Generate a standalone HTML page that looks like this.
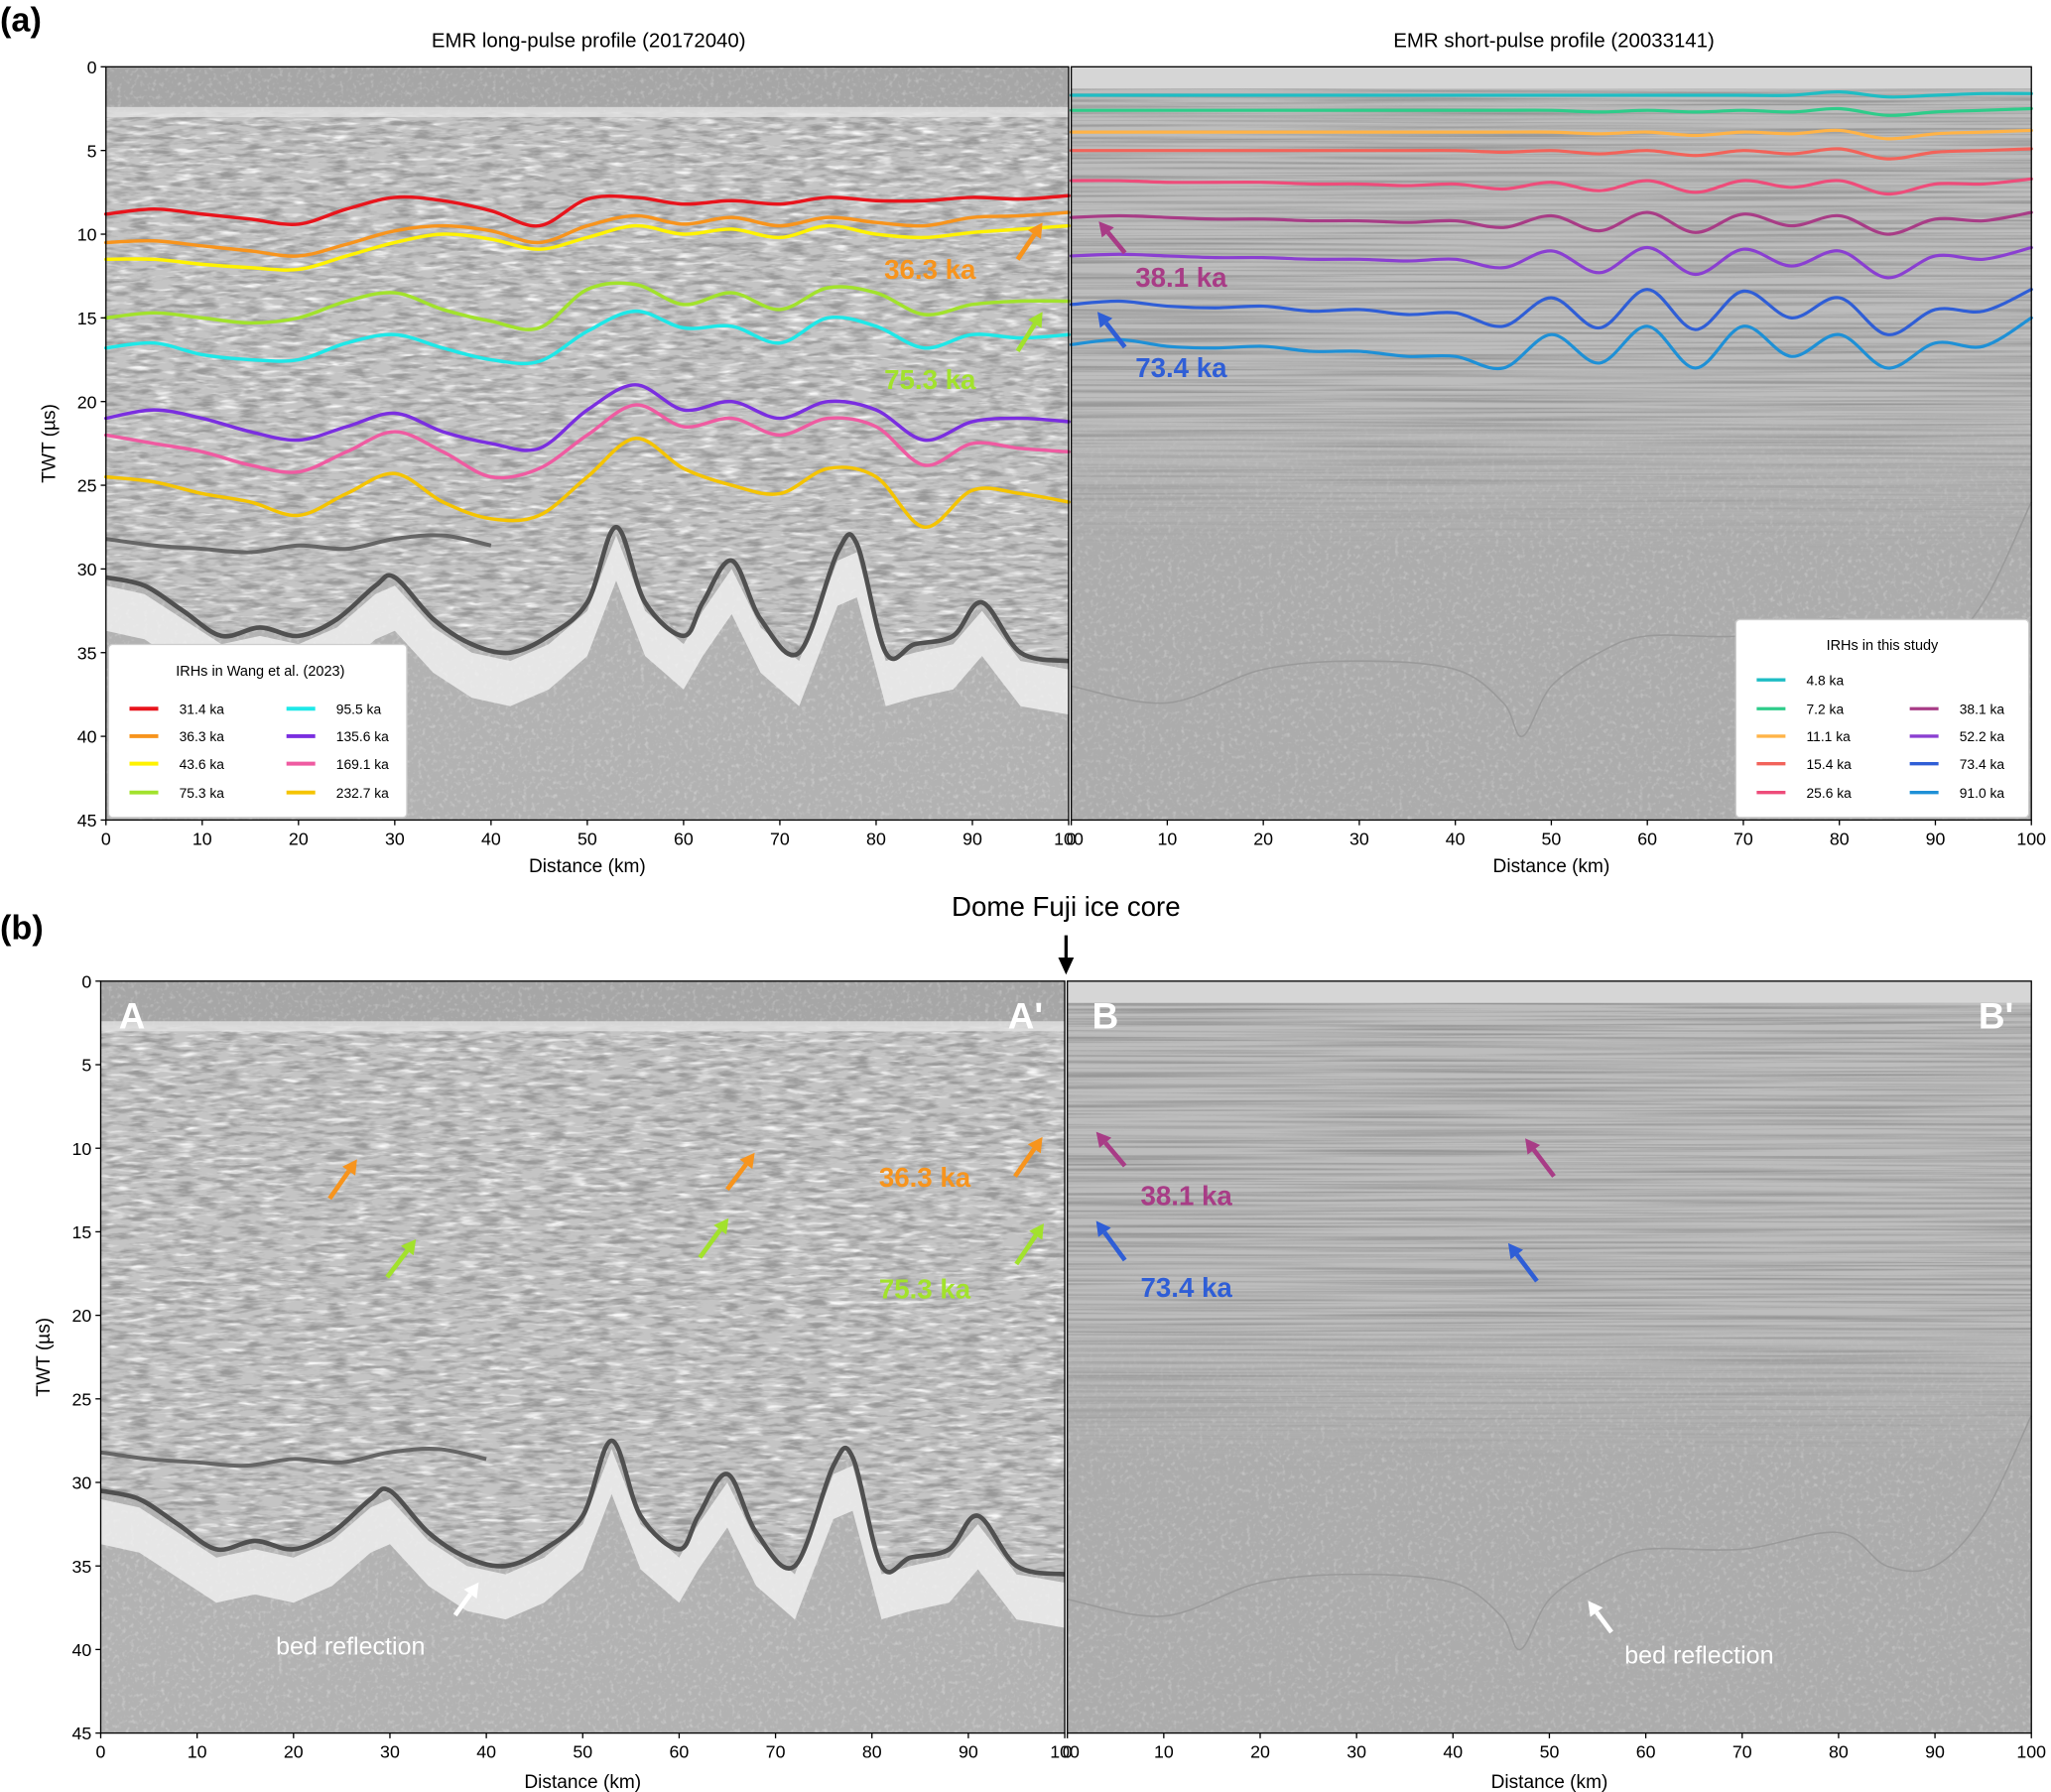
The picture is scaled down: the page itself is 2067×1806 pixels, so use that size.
<!DOCTYPE html>
<html><head><meta charset="utf-8"><title>EMR radar profiles</title>
<style>
html,body{margin:0;padding:0;background:#fff;}
svg{display:block;font-family:"Liberation Sans",Arial,sans-serif;}
</style></head>
<body>
<svg id="fig" width="2067" height="1806" viewBox="0 0 1568 1368" preserveAspectRatio="none" xmlns="http://www.w3.org/2000/svg">
<defs>
<filter id="nzDark" x="0" y="0" width="100%" height="100%"><feTurbulence type="fractalNoise" baseFrequency="0.06 0.28" numOctaves="3" seed="4"/><feColorMatrix type="matrix" values="0 0 0 0 0.3  0 0 0 0 0.3  0 0 0 0 0.3  3.0 0 0 0 -1.3"/></filter>
<filter id="nzLight" x="0" y="0" width="100%" height="100%"><feTurbulence type="fractalNoise" baseFrequency="0.3 0.3" numOctaves="2" seed="9"/><feColorMatrix type="matrix" values="0 0 0 0 1  0 0 0 0 1  0 0 0 0 1  -2.4 0 0 0 1.15"/></filter>
<filter id="nzWhite" x="0" y="0" width="100%" height="100%"><feTurbulence type="fractalNoise" baseFrequency="0.06 0.3" numOctaves="2" seed="11"/><feColorMatrix type="matrix" values="0 0 0 0 1  0 0 0 0 1  0 0 0 0 1  -3.0 0 0 0 1.45"/></filter>
<filter id="stripes" x="0" y="0" width="100%" height="100%"><feTurbulence type="fractalNoise" baseFrequency="0.004 0.5" numOctaves="2" seed="7"/><feColorMatrix type="matrix" values="0 0 0 0 0.25  0 0 0 0 0.25  0 0 0 0 0.25  2.6 0 0 0 -1.05"/></filter>
<linearGradient id="fadeG" x1="0" y1="0" x2="0" y2="1"><stop offset="0" stop-color="#fff"/><stop offset="0.45" stop-color="#fff"/><stop offset="0.65" stop-color="#000"/><stop offset="1" stop-color="#000"/></linearGradient>
</defs>
<g id="root"></g>
</svg>
<script>
// ---------------- data ----------------
const dist5 = [0,5,10,15,20,25,30,35,40,45,50,55,60,65,70,75,80,85,90,95,100];
const longLabels = ["31.4 ka","36.3 ka","43.6 ka","75.3 ka","95.5 ka","135.6 ka","169.1 ka","232.7 ka"];
const longColors = ["#e8141c","#f7941d","#fff200","#a2e22c","#1ee8e8","#7a2ee0","#ef5ba1","#f5c400"];
const irh314 = [8.8,8.5,8.8,9.1,9.4,8.5,7.8,8.0,8.6,9.5,7.9,7.8,8.2,8.0,8.2,7.8,8.0,8.0,7.8,7.9,7.7];
const irh363 = [10.5,10.4,10.7,11.0,11.3,10.6,9.8,9.5,9.8,10.5,9.5,8.9,9.4,9.0,9.5,9.0,9.3,9.5,9.0,8.9,8.7];
const irh436 = [11.5,11.5,11.8,12.0,12.1,11.3,10.5,10.0,10.3,10.9,10.2,9.5,10.0,9.7,10.2,9.5,10.0,10.2,9.9,9.7,9.5];
const irh753 = [15.0,14.7,15.0,15.3,15.0,14.0,13.5,14.5,15.2,15.6,13.3,13.0,14.2,13.5,14.5,13.2,13.5,14.8,14.2,14.0,14.0];
const irh955 = [16.8,16.5,17.2,17.5,17.5,16.5,16.0,16.8,17.5,17.6,15.8,14.6,15.6,15.5,16.5,15.0,15.5,16.8,16.0,16.2,16.0];
const irh1356 = [21.0,20.5,21.0,21.8,22.3,21.5,20.7,21.8,22.5,22.8,20.5,19.0,20.5,20.0,21.0,20.0,20.5,22.3,21.2,21.0,21.2];
const irh1691 = [22.0,22.5,23.0,23.8,24.2,23.0,21.8,23.0,24.5,24.0,22.0,20.2,21.5,21.0,22.0,21.0,21.5,23.8,22.5,22.8,23.0];
const irh2327 = [24.5,24.8,25.5,26.0,26.8,25.5,24.3,26.0,27.0,26.8,24.5,22.2,24.0,25.0,25.5,24.0,24.5,27.5,25.3,25.5,26.0];
const longSeries = [irh314,irh363,irh436,irh753,irh955,irh1356,irh1691,irh2327];

const shortLabels = ["4.8 ka","7.2 ka","11.1 ka","15.4 ka","25.6 ka","38.1 ka","52.2 ka","73.4 ka","91.0 ka"];
const shortColors = ["#1ebdc4","#2ecc8a","#ffb347","#f2635a","#ee4c7a","#a83c86","#8a3fd1","#2f5ed6","#1e90d6"];
const s48 = [1.7,1.7,1.7,1.7,1.7,1.7,1.7,1.7,1.7,1.7,1.7,1.7,1.7,1.7,1.7,1.7,1.5,1.8,1.7,1.6,1.6];
const s72 = [2.6,2.6,2.6,2.6,2.6,2.6,2.6,2.6,2.6,2.6,2.6,2.7,2.6,2.7,2.6,2.7,2.5,2.9,2.7,2.6,2.5];
const s111 = [3.9,3.9,3.9,3.9,3.9,3.9,3.9,3.9,3.9,3.9,3.9,4.0,3.9,4.1,3.9,4.0,3.8,4.3,4.0,3.9,3.8];
const s154 = [5.0,5.0,5.0,5.0,5.0,5.0,5.0,5.0,5.0,5.1,5.0,5.2,5.0,5.3,5.0,5.2,4.9,5.5,5.1,5.0,4.9];
const s256 = [6.8,6.8,6.9,6.9,6.9,7.0,7.0,7.1,7.0,7.3,6.9,7.4,6.8,7.5,6.8,7.2,6.8,7.6,7.0,7.0,6.7];
const s381 = [9.0,8.9,9.0,9.1,9.1,9.2,9.2,9.3,9.2,9.6,8.9,9.8,8.7,9.9,8.8,9.5,8.9,10.0,9.1,9.2,8.7];
const s522 = [11.3,11.2,11.3,11.4,11.4,11.5,11.5,11.6,11.5,12.0,11.0,12.3,10.8,12.4,10.9,11.9,11.0,12.6,11.3,11.5,10.8];
const s734 = [14.2,14.0,14.3,14.4,14.3,14.6,14.5,14.8,14.7,15.5,13.8,15.6,13.3,15.7,13.4,15.0,13.8,16.0,14.5,14.6,13.3];
const s910 = [16.6,16.3,16.7,16.8,16.7,17.0,17.0,17.3,17.3,18.0,16.0,17.7,15.5,18.0,15.5,17.3,16.0,18.0,16.5,16.7,15.0];
const shortSeries = [s48,s72,s111,s154,s256,s381,s522,s734,s910];

const bedDist = [0,4,8,12,16,20,24,28,30,34,38,42,46,50,53,56,60,62,65,68,72,76,78,81,84,88,91,95,100];
const bedTwt = [30.5,31,32.5,34,33.5,34,33,31,30.5,33,34.5,35,34,32,27.5,32,34,32,29.5,33,35,29,28.5,35,34.5,34,32,35,35.5];
const layerDist = [0,5,10,15,20,25,30,35,40];
const layerTwt = [28.2,28.6,28.8,29.0,28.6,28.8,28.2,28.0,28.6];
const rBedDist = [0,10,20,30,40,45,47,50,55,60,70,80,85,90,95,100];
const rBedTwt = [37,38,36,35.5,36,38,40,37,35,34,34,33,35,35,32,26];
const xTicks = [0,10,20,30,40,50,60,70,80,90,100];
const yTicks = [0,5,10,15,20,25,30,35,40,45];

// ---------------- helpers ----------------
const NS = "http://www.w3.org/2000/svg";
const root = document.getElementById("root");
function mk(tag, attrs, parent){
  const e = document.createElementNS(NS, tag);
  for (const k in attrs) e.setAttribute(k, attrs[k]);
  (parent||root).appendChild(e);
  return e;
}
function txt(s, x, y, size, opts, parent){
  const e = mk("text", Object.assign({x:x, y:y, "font-size":size, fill:"#000"}, opts||{}), parent);
  e.textContent = s;
  return e;
}
let uid = 0;
function makeAxes(x0,x1,y0,y1){
  return {X:d=>x0+(x1-x0)*d/100, Y:t=>y0+(y1-y0)*t/45, x0,x1,y0,y1};
}
function pts(ax, ds, ts){ return ds.map((d,i)=>ax.X(d).toFixed(2)+","+ax.Y(ts[i]).toFixed(2)).join(" "); }
function smooth(ax, ds, ts){
  const p = ds.map((d,i)=>[ax.X(d), ax.Y(ts[i])]);
  let s = "M"+p[0][0].toFixed(2)+","+p[0][1].toFixed(2);
  for (let i=0;i<p.length-1;i++){
    const p0=p[Math.max(0,i-1)], p1=p[i], p2=p[i+1], p3=p[Math.min(p.length-1,i+2)];
    const c1=[p1[0]+(p2[0]-p0[0])/6, p1[1]+(p2[1]-p0[1])/6];
    const c2=[p2[0]-(p3[0]-p1[0])/6, p2[1]-(p3[1]-p1[1])/6];
    s += " C"+c1[0].toFixed(2)+","+c1[1].toFixed(2)+" "+c2[0].toFixed(2)+","+c2[1].toFixed(2)+" "+p2[0].toFixed(2)+","+p2[1].toFixed(2);
  }
  return s;
}

function longBackground(ax, g){
  mk("rect",{x:ax.x0,y:ax.y0,width:ax.x1-ax.x0,height:ax.y1-ax.y0,fill:"#b2b2b2"},g);
  mk("rect",{x:ax.x0,y:ax.y0,width:ax.x1-ax.x0,height:ax.y1-ax.y0,filter:"url(#nzLight)",opacity:"0.35"},g);
  const id = "clipL"+(uid++);
  const cp = mk("clipPath",{id:id},g);
  let poly = ax.X(0)+","+ax.Y(2.7)+" "+ax.X(100)+","+ax.Y(2.7)+" ";
  for (let i=bedDist.length-1;i>=0;i--) poly += ax.X(bedDist[i])+","+ax.Y(bedTwt[i])+" ";
  mk("polygon",{points:poly},cp);
  const reg = mk("g",{"clip-path":"url(#"+id+")"},g);
  mk("rect",{x:ax.x0,y:ax.y0,width:ax.x1-ax.x0,height:ax.y1-ax.y0,fill:"#c4c4c4"},reg);
  mk("rect",{x:ax.x0,y:ax.y0,width:ax.x1-ax.x0,height:ax.y1-ax.y0,filter:"url(#nzWhite)",opacity:"0.9"},reg);
  mk("rect",{x:ax.x0,y:ax.y0,width:ax.x1-ax.x0,height:ax.y1-ax.y0,filter:"url(#nzDark)",opacity:"0.9"},reg);
  mk("rect",{x:ax.x0,y:ax.y0,width:ax.x1-ax.x0,height:ax.Y(2.6)-ax.y0,fill:"#a6a6a6"},g);
  mk("rect",{x:ax.x0,y:ax.y0,width:ax.x1-ax.x0,height:ax.Y(2.6)-ax.y0,filter:"url(#nzLight)",opacity:"0.3"},g);
  mk("rect",{x:ax.x0,y:ax.Y(2.4),width:ax.x1-ax.x0,height:ax.Y(3.0)-ax.Y(2.4),fill:"#e2e2e2",opacity:"0.8"},g);
  let halo = "";
  bedDist.forEach((d,i)=>halo += ax.X(d)+","+ax.Y(bedTwt[i]+0.5)+" ");
  for (let i=bedDist.length-1;i>=0;i--) halo += ax.X(bedDist[i])+","+ax.Y(bedTwt[i]+3.2)+" ";
  const h = mk("polygon",{points:halo,fill:"#f2f2f2",opacity:"0.8"},g);
  
  
  const bl = mk("path",{d:smooth(ax,bedDist,bedTwt),fill:"none",stroke:"#505050","stroke-width":"3.5","stroke-linejoin":"round"},g);
  
  
  const ll = mk("path",{d:smooth(ax,layerDist,layerTwt),fill:"none",stroke:"#666","stroke-width":"3","stroke-linejoin":"round"},g);
  
  
}

function shortBackground(ax, g){
  mk("rect",{x:ax.x0,y:ax.y0,width:ax.x1-ax.x0,height:ax.y1-ax.y0,fill:"#acacac"},g);
  mk("rect",{x:ax.x0,y:ax.y0,width:ax.x1-ax.x0,height:ax.y1-ax.y0,filter:"url(#nzLight)",opacity:"0.3"},g);
  const mid = "mask"+(uid++);
  const m = mk("mask",{id:mid,maskUnits:"userSpaceOnUse"},g);
  mk("rect",{x:ax.x0,y:ax.y0,width:ax.x1-ax.x0,height:ax.y1-ax.y0,fill:"url(#fadeG)"},m);
  const sg = mk("g",{mask:"url(#"+mid+")"},g);
  mk("rect",{x:ax.x0,y:ax.Y(1.2),width:ax.x1-ax.x0,height:ax.Y(34)-ax.Y(1.2),fill:"#bdbdbd"},sg);
  mk("rect",{x:ax.x0,y:ax.Y(1.2),width:ax.x1-ax.x0,height:ax.Y(34)-ax.Y(1.2),filter:"url(#stripes)",opacity:"0.75"},sg);
  mk("rect",{x:ax.x0,y:ax.y0,width:ax.x1-ax.x0,height:ax.Y(1.3)-ax.y0,fill:"#d6d6d6"},g);
  const bl = mk("path",{d:smooth(ax,rBedDist,rBedTwt),fill:"none",stroke:"#9a9a9a","stroke-width":"1.2","stroke-linejoin":"round"},g);
  
  
}

function axisFrame(ax, g, xlabelY){
  mk("rect",{x:ax.x0,y:ax.y0,width:ax.x1-ax.x0,height:ax.y1-ax.y0,fill:"none",stroke:"#000","stroke-width":"1"},g);
  xTicks.forEach(v=>{
    const x = ax.X(v);
    mk("line",{x1:x,y1:ax.y1,x2:x,y2:ax.y1+4,stroke:"#000","stroke-width":"1"},g);
    const t = txt(String(v), x, ax.y1+19, 13.5, {"text-anchor":"middle"}, g);
    
    
  });
  const xl = txt("Distance (km)", (ax.x0+ax.x1)/2, xlabelY, 14.5, {"text-anchor":"middle"}, g);
  
  
}
function yAxis(ax, g, ylabelX){
  yTicks.forEach(v=>{
    const y = ax.Y(v);
    mk("line",{x1:ax.x0-4,y1:y,x2:ax.x0,y2:y,stroke:"#000","stroke-width":"1"},g);
    const t = txt(String(v), ax.x0-7, y+5, 13.5, {"text-anchor":"end"}, g);
    
    
  });
  const cy = (ax.y0+ax.y1)/2;
  const yl = txt("TWT (µs)", ylabelX, cy, 14.5, {"text-anchor":"middle", transform:"rotate(-90 "+ylabelX+" "+cy+")"}, g);
  
  
}
function drawSeries(ax, g, series, colors, labels, w){
  series.forEach((s,i)=>{
    const p = mk("path",{d:smooth(ax,dist5,s),fill:"none",stroke:colors[i],"stroke-width":w,"stroke-linejoin":"round","stroke-linecap":"round"},g);
    
    
  });
}
function arrow(x1,y1,x2,y2,color,g){
  const a = mk("g",{},g);
  
  
  const dx=x2-x1, dy=y2-y1, L=Math.hypot(dx,dy), ux=dx/L, uy=dy/L;
  const hl=11, hw=6;
  const bx=x2-ux*hl, by=y2-uy*hl;
  mk("line",{x1:x1,y1:y1,x2:bx,y2:by,stroke:color,"stroke-width":"3.5"},a);
  mk("polygon",{points:x2+","+y2+" "+(bx-uy*hw)+","+(by+ux*hw)+" "+(bx+uy*hw)+","+(by-ux*hw),fill:color},a);
}
function label(s,x,y,color,g,size){
  const t = txt(s,x,y,size||21,{fill:color,"font-weight":"bold"},g);
  
  
  return t;
}

// ---------------- panel (a) ----------------
const pa = mk("g",{});  
const aL = makeAxes(81,817,51,626), aR = makeAxes(819,1553,51,626);
const gaL = mk("g",{},pa);  
longBackground(aL,gaL);
drawSeries(aL,gaL,longSeries,longColors,longLabels,"2.6");
const gaR = mk("g",{},pa);  
shortBackground(aR,gaR);
drawSeries(aR,gaR,shortSeries,shortColors,shortLabels,"2.4");
axisFrame(aL,pa,666); axisFrame(aR,pa,666); yAxis(aL,pa,42);
let t;
t = txt("(a)",0,24,26,{"font-weight":"bold"},pa);  
t = txt("EMR long-pulse profile (20172040)",450,36,15.5,{"text-anchor":"middle"},pa);  
t = txt("EMR short-pulse profile (20033141)",1188,36,15.5,{"text-anchor":"middle"},pa);  

arrow(778,198,797,170,"#f7941d",pa); label("36.3 ka",676,213,"#f7941d",pa);
arrow(778,268,797,238,"#a2e22c",pa); label("75.3 ka",676,297,"#a2e22c",pa);
arrow(860,193,840,169,"#a83c86",pa); label("38.1 ka",868,219,"#a83c86",pa);
arrow(860,265,839,238,"#2f5ed6",pa); label("73.4 ka",868,288,"#2f5ed6",pa);

// legends
const lgL = mk("g",{},pa);  
mk("rect",{x:83,y:492,width:228,height:132,fill:"#fff",stroke:"#ccc","stroke-width":"1",rx:"3"},lgL);
txt("IRHs in Wang et al. (2023)",199,516,11,{"text-anchor":"middle"},lgL);
longLabels.forEach((s,i)=>{
  const col = i<4?0:1, row=i%4;
  const lx = col?219:99, ty=[541,562,583,605][row];
  const e = mk("g",{},lgL);
  
  
  mk("line",{x1:lx,y1:ty,x2:lx+22,y2:ty,stroke:longColors[i],"stroke-width":"3"},e);
  txt(s,lx+38,ty+4,10.5,{},e);
});
const lgR = mk("g",{},pa);  
mk("rect",{x:1327,y:473,width:224,height:151,fill:"#fff",stroke:"#ccc","stroke-width":"1",rx:"3"},lgR);
txt("IRHs in this study",1439,496,11,{"text-anchor":"middle"},lgR);
shortLabels.forEach((s,i)=>{
  const col = i<5?0:1, row = col?i-5+1:i;
  const lx = col?1460:1343, ty=[519,541,562,583,605][row];
  const e = mk("g",{},lgR);
  
  
  mk("line",{x1:lx,y1:ty,x2:lx+22,y2:ty,stroke:shortColors[i],"stroke-width":"2.5"},e);
  txt(s,lx+38,ty+4,10.5,{},e);
});

// ---------------- panel (b) ----------------
const pb = mk("g",{});  
const bL = makeAxes(77,814,749,1323), bR = makeAxes(816,1553,749,1323);
const gbL = mk("g",{},pb);  
longBackground(bL,gbL);
const gbR = mk("g",{},pb);  
shortBackground(bR,gbR);
axisFrame(bL,pb,1365); axisFrame(bR,pb,1365); yAxis(bL,pb,38);
t = txt("(b)",0,717,26,{"font-weight":"bold"},pb);  
t = txt("Dome Fuji ice core",815,699,21,{"text-anchor":"middle"},pb);  
const da = mk("g",{},pb);  
mk("line",{x1:815,y1:714,x2:815,y2:734,stroke:"#000","stroke-width":"2.5"},da);
mk("polygon",{points:"809,731 821,731 815,744",fill:"#000"},da);
[["A",101],["A'",784],["B",845],["B'",1526]].forEach(([s,x])=>{
  const e = txt(s,x,785,28,{fill:"#fff","font-weight":"bold","text-anchor":"middle"},pb);
  
  
});
arrow(252,915,273,885,"#f7941d",pb); arrow(556,908,577,880,"#f7941d",pb); arrow(776,898,797,868,"#f7941d",pb);
arrow(296,975,318,946,"#a2e22c",pb); arrow(535,960,557,930,"#a2e22c",pb); arrow(777,965,798,934,"#a2e22c",pb);
label("36.3 ka",672,906,"#f7941d",pb); label("75.3 ka",672,991,"#a2e22c",pb);
arrow(860,890,838,864,"#a83c86",pb); arrow(1188,898,1166,869,"#a83c86",pb);
arrow(860,962,838,932,"#2f5ed6",pb); arrow(1175,978,1153,949,"#2f5ed6",pb);
label("38.1 ka",872,920,"#a83c86",pb); label("73.4 ka",872,990,"#2f5ed6",pb);
arrow(348,1233,366,1208,"#fff",pb); arrow(1232,1246,1214,1222,"#fff",pb);
t = txt("bed reflection",211,1263,19,{fill:"#fff"},pb);  
t = txt("bed reflection",1242,1270,19,{fill:"#fff"},pb);  
</script>
</body></html>
